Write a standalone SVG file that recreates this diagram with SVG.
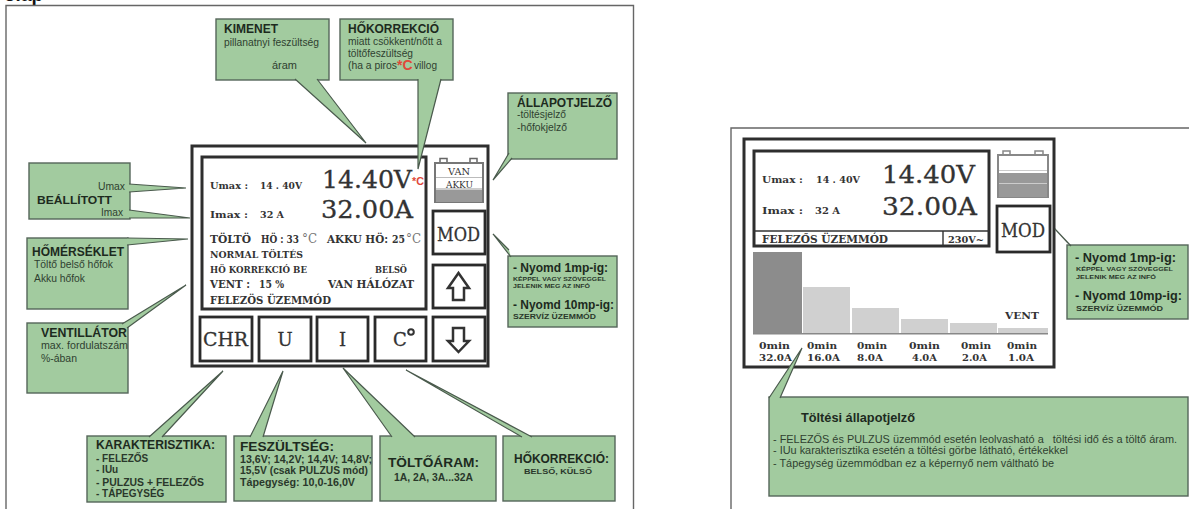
<svg xmlns="http://www.w3.org/2000/svg" width="1189" height="509" viewBox="0 0 1189 509">
<style>
text{font-family:"Liberation Sans",Arial,sans-serif;fill:#2f3f30;font-size:10.4px}
.h{font-weight:bold;fill:#1d2a1e;font-size:12px}
.b{font-weight:bold;fill:#2a382b}
.box{fill:#a2cb9f;stroke:#55655a;stroke-width:1.4}
.tail{fill:#a2cb9f;stroke:#4a5a4d;stroke-width:1.2;stroke-linejoin:miter}
.frame{fill:none;stroke:#666;stroke-width:1.4}
.dev{fill:#fff;stroke:#2e2e2e;stroke-width:3}
.dev2{fill:#fff;stroke:#2a2a2a;stroke-width:2.8}
text.s{font-family:"DejaVu Serif","Liberation Serif",serif;font-weight:bold;fill:#333;font-size:10px}
text.g{font-family:"DejaVu Serif","Liberation Serif",serif;fill:#333;stroke:#333;stroke-width:.3;font-size:24px}
text.k{font-family:"DejaVu Serif","Liberation Serif",serif;fill:#333;stroke:#333;stroke-width:.3;font-size:18px}
text.d{font-family:"DejaVu Serif","Liberation Serif",serif;fill:#777;font-size:12px}
.arrow{fill:#fff;stroke:#333;stroke-width:2.5;stroke-linejoin:miter}
</style>
<rect width="1189" height="509" fill="#fff"/>
<text x="4" y="1" style="font-size:19px;font-weight:bold;fill:#111">olap</text>
<g id="frames">
<path class="frame" d="M6 509V5.500H633.500V509"/>
<path class="frame" d="M731 509V128H1189"/>
</g>
<g id="device-main">
<rect class="dev" x="192" y="146" width="296" height="220"/>
<rect class="dev" x="202" y="157" width="224" height="152"/>
<text class="s" x="210" y="189" textLength="38" lengthAdjust="spacingAndGlyphs">Umax :</text>
<text class="s" x="260" y="189" textLength="42" lengthAdjust="spacingAndGlyphs">14 . 40V</text>
<text class="g" x="322" y="188" textLength="90" lengthAdjust="spacingAndGlyphs">14.40V</text>
<text x="412" y="185" style="fill:#e0483a;font-size:11px;font-weight:bold" textLength="12" lengthAdjust="spacingAndGlyphs">*C</text>
<text class="s" x="210" y="218" textLength="38" lengthAdjust="spacingAndGlyphs">Imax :</text>
<text class="s" x="260" y="218" textLength="24" lengthAdjust="spacingAndGlyphs">32 A</text>
<text class="g" x="321" y="218" textLength="92" lengthAdjust="spacingAndGlyphs">32.00A</text>
<text class="s" x="210" y="243" style="font-size:11px" textLength="41" lengthAdjust="spacingAndGlyphs">TÖLTÖ</text>
<text class="s" x="261" y="243" style="font-size:11px" textLength="38" lengthAdjust="spacingAndGlyphs">HÖ : 33</text>
<text class="d" x="302" y="243" textLength="15" lengthAdjust="spacingAndGlyphs">°C</text>
<text class="s" x="327" y="243" style="font-size:11px" textLength="61" lengthAdjust="spacingAndGlyphs">AKKU HÖ:</text>
<text class="s" x="392" y="243" style="font-size:11px" textLength="13" lengthAdjust="spacingAndGlyphs">25</text>
<text class="d" x="406" y="243" textLength="15" lengthAdjust="spacingAndGlyphs">°C</text>
<text class="s" x="210" y="258" style="font-size:9px" textLength="93" lengthAdjust="spacingAndGlyphs">NORMAL  TÖLTÉS</text>
<text class="s" x="210" y="273" style="font-size:9px" textLength="97" lengthAdjust="spacingAndGlyphs">HÖ KORREKCIÓ BE</text>
<text class="s" x="375" y="273" style="font-size:9px" textLength="32" lengthAdjust="spacingAndGlyphs">BELSÖ</text>
<text class="s" x="210" y="288" style="font-size:11px" textLength="40" lengthAdjust="spacingAndGlyphs">VENT :</text>
<text class="s" x="259" y="288" style="font-size:11px" textLength="25" lengthAdjust="spacingAndGlyphs">15 %</text>
<text class="s" x="328" y="288" style="font-size:11px" textLength="86" lengthAdjust="spacingAndGlyphs">VAN HÁLÓZAT</text>
<text class="s" x="210" y="304" style="font-size:11px" textLength="121" lengthAdjust="spacingAndGlyphs">FELEZÖS ÜZEMMÓD</text>
</g>
<g id="battery-main">
<path d="M440 163V158.500H447V163M470 163V158.500H477V163" fill="#fff" stroke="#666" stroke-width="1.500"/>
<rect x="435" y="163" width="48" height="39" fill="#fff" stroke="#777" stroke-width="2"/>
<rect x="436" y="190" width="46" height="12" fill="#999"/>
<rect x="436" y="177" width="46" height="1" fill="#bbb"/>
<rect x="436" y="188" width="46" height="2" fill="#ccc"/>
<text x="448" y="175" style="font-family:'DejaVu Serif',serif;font-size:9.500px;fill:#333" textLength="22" lengthAdjust="spacingAndGlyphs">VAN</text>
<text x="446" y="188" style="font-family:'DejaVu Serif',serif;font-size:9.500px;fill:#333" textLength="27" lengthAdjust="spacingAndGlyphs">AKKU</text>
</g>
<g id="btn-mod"><rect class="dev2" x="433" y="211" width="52" height="43"/><text class="k" x="437" y="241" textLength="43" lengthAdjust="spacingAndGlyphs">MOD</text></g>
<g id="btn-up"><rect class="dev2" x="433" y="265" width="52" height="43"/><path class="arrow" d="M458.500 273L469 288H464V300H453V288H448Z"/></g>
<g id="btn-down"><rect class="dev2" x="433" y="317" width="52" height="44"/><path class="arrow" d="M458.500 352L469 341H464V328H453V341H448Z"/></g>
<g id="btn-chr"><rect class="dev2" x="200" y="317" width="52" height="44"/><text class="k" x="203" y="346" textLength="45" lengthAdjust="spacingAndGlyphs">CHR</text></g>
<g id="btn-u"><rect class="dev2" x="259" y="317" width="52" height="44"/><text class="k" x="285" y="346" text-anchor="middle">U</text></g>
<g id="btn-i"><rect class="dev2" x="317" y="317" width="51" height="44"/><text class="k" x="342.500" y="346" text-anchor="middle">I</text></g>
<g id="btn-c"><rect class="dev2" x="375" y="317" width="51" height="44"/><text class="k" x="393" y="346">C</text><circle cx="411" cy="332" r="2.800" fill="none" stroke="#333" stroke-width="2"/></g>

<g id="n-kimenet"><rect class="box" x="216" y="19" width="113" height="61"/>
<text class="h" x="224" y="33">KIMENET</text><text x="224" y="46" textLength="95" lengthAdjust="spacingAndGlyphs">pillanatnyi feszültség</text><text x="272" y="69" textLength="25" lengthAdjust="spacingAndGlyphs">áram</text></g>
<g id="n-hokorr1"><rect class="box" x="340" y="19" width="113" height="61"/>
<text class="h" x="348" y="33" textLength="91" lengthAdjust="spacingAndGlyphs">HŐKORREKCIÓ</text><text x="348" y="45" textLength="94" lengthAdjust="spacingAndGlyphs">miatt csökkent/nőtt a</text><text x="348" y="57" textLength="65" lengthAdjust="spacingAndGlyphs">töltőfeszültség</text><text x="348" y="69" textLength="49" lengthAdjust="spacingAndGlyphs">(ha a piros</text>
<text x="397" y="70" style="fill:#e0483a;font-size:14px;font-weight:bold">*C</text><text x="414" y="69" textLength="23" lengthAdjust="spacingAndGlyphs">villog</text></g>
<g id="n-allapot"><rect class="box" x="508" y="93" width="109" height="66"/>
<text class="h" x="517" y="107" textLength="95" lengthAdjust="spacingAndGlyphs">ÁLLAPOTJELZŐ</text><text x="517" y="118" textLength="49" lengthAdjust="spacingAndGlyphs">-töltésjelző</text><text x="517" y="131" textLength="50" lengthAdjust="spacingAndGlyphs">-hőfokjelző</text></g>
<g id="n-nyomd"><rect class="box" x="508" y="256" width="109" height="71"/>
<text class="h" x="513" y="272" style="font-size:12.500px" textLength="95" lengthAdjust="spacingAndGlyphs">- Nyomd 1mp-ig:</text>
<text class="b" x="513" y="281" style="font-size:6px" textLength="93" lengthAdjust="spacingAndGlyphs">KÉPPEL VAGY SZÖVEGGEL</text>
<text class="b" x="513" y="288" style="font-size:6px" textLength="77" lengthAdjust="spacingAndGlyphs">JELENIK MEG AZ INFÓ</text>
<text class="h" x="513" y="309" style="font-size:12.500px" textLength="101" lengthAdjust="spacingAndGlyphs">- Nyomd 10mp-ig:</text>
<text class="b" x="513" y="319" style="font-size:8px" textLength="83" lengthAdjust="spacingAndGlyphs">SZERVÍZ ÜZEMMÓD</text></g>
<g id="n-beallitott"><rect class="box" x="29" y="163" width="101" height="56"/>
<text x="98" y="190" textLength="27" lengthAdjust="spacingAndGlyphs">Umax</text>
<text class="h" x="37" y="204" style="font-size:11px" textLength="75" lengthAdjust="spacingAndGlyphs">BEÁLLÍTOTT</text>
<text x="101" y="216" textLength="22" lengthAdjust="spacingAndGlyphs">Imax</text></g>
<g id="n-homerseklet"><rect class="box" x="27" y="238" width="101" height="71"/>
<text class="h" x="32" y="256" textLength="92" lengthAdjust="spacingAndGlyphs">HŐMÉRSÉKLET</text><text x="34" y="268" textLength="79" lengthAdjust="spacingAndGlyphs">Töltő belső hőfok</text><text x="34" y="282" textLength="51" lengthAdjust="spacingAndGlyphs">Akku hőfok</text></g>
<g id="n-ventillator"><rect class="box" x="27" y="323" width="101" height="70"/>
<text class="h" x="41" y="337" textLength="86" lengthAdjust="spacingAndGlyphs">VENTILLÁTOR</text><text x="41" y="349" textLength="87" lengthAdjust="spacingAndGlyphs">max. fordulatszám</text><text x="41" y="362" textLength="36" lengthAdjust="spacingAndGlyphs">%-ában</text></g>
<g id="n-karakt"><rect class="box" x="87" y="436" width="139" height="66"/>
<text class="h" x="96" y="449" textLength="119" lengthAdjust="spacingAndGlyphs">KARAKTERISZTIKA:</text>
<text class="b" x="96" y="462" style="font-size:10px">- FELEZŐS</text><text class="b" x="96" y="473" style="font-size:10px">- IUu</text>
<text class="b" x="96" y="486" style="font-size:10px" textLength="108" lengthAdjust="spacingAndGlyphs">- PULZUS + FELEZŐS</text><text class="b" x="96" y="497" style="font-size:10px">- TÁPEGYSÉG</text></g>
<g id="n-fesz"><rect class="box" x="234" y="436" width="138" height="65"/>
<text class="h" x="240" y="451" style="font-size:13.500px" textLength="94" lengthAdjust="spacingAndGlyphs">FESZÜLTSÉG:</text>
<text class="b" x="240" y="463" textLength="132" lengthAdjust="spacingAndGlyphs">13,6V; 14,2V; 14,4V; 14,8V;</text>
<text class="b" x="240" y="474" textLength="128" lengthAdjust="spacingAndGlyphs">15,5V (csak PULZUS mód)</text>
<text class="b" x="240" y="486" textLength="115" lengthAdjust="spacingAndGlyphs">Tápegység: 10,0-16,0V</text></g>
<g id="n-toltoaram"><rect class="box" x="380" y="436" width="116" height="65"/>
<text class="h" x="388" y="467" style="font-size:13.500px" textLength="91" lengthAdjust="spacingAndGlyphs">TÖLTŐÁRAM:</text>
<text class="b" x="394" y="481" textLength="79" lengthAdjust="spacingAndGlyphs">1A, 2A, 3A...32A</text></g>
<g id="n-hokorr2"><rect class="box" x="503" y="436" width="112" height="65"/>
<text class="h" x="514" y="463" textLength="95" lengthAdjust="spacingAndGlyphs">HŐKORREKCIÓ:</text>
<text class="b" x="524" y="474" style="font-size:8px" textLength="68" lengthAdjust="spacingAndGlyphs">BELSŐ, KÜLSŐ</text></g>

<g id="device-second">
<rect class="dev" x="744" y="139" width="310" height="228"/>
<rect class="dev" x="754" y="151" width="235" height="95"/>
<path d="M754 231H989M943 231V246" fill="none" stroke="#333" stroke-width="1.400"/>
<text class="s" x="762" y="183" textLength="41" lengthAdjust="spacingAndGlyphs">Umax :</text>
<text class="s" x="816" y="183" textLength="44" lengthAdjust="spacingAndGlyphs">14 . 40V</text>
<text class="g" x="882" y="183" textLength="93" lengthAdjust="spacingAndGlyphs">14.40V</text>
<text class="s" x="762" y="214" textLength="41" lengthAdjust="spacingAndGlyphs">Imax :</text>
<text class="s" x="815" y="214" textLength="25" lengthAdjust="spacingAndGlyphs">32 A</text>
<text class="g" x="882" y="215" textLength="95" lengthAdjust="spacingAndGlyphs">32.00A</text>
<text class="s" x="762" y="243" style="font-size:11px" textLength="126" lengthAdjust="spacingAndGlyphs">FELEZŐS ÜZEMMÓD</text>
<text class="s" x="948" y="243" textLength="36" lengthAdjust="spacingAndGlyphs">230V~</text>
</g>
<g id="battery-second">
<path d="M1003 155V151H1010V155M1035 155V151H1043V155" fill="#fff" stroke="#888" stroke-width="1.500"/>
<rect x="998" y="155" width="50" height="42" fill="#fff" stroke="#888" stroke-width="2"/>
<rect x="999" y="173" width="48" height="24" fill="#999"/>
<rect x="999" y="170" width="48" height="1" fill="#ccc"/>
<rect x="999" y="183" width="48" height="1" fill="#ccc"/>
</g>
<g id="btn-mod2"><rect class="dev2" x="997" y="206" width="53" height="46"/><text class="k" x="1001" y="237" textLength="44" lengthAdjust="spacingAndGlyphs">MOD</text></g>
<g id="chart">
<rect x="753" y="252" width="49" height="81" fill="#8c8c8c"/>
<rect x="803" y="287" width="47" height="46" fill="#d0d0d0"/>
<rect x="852" y="308" width="47" height="25" fill="#d0d0d0"/>
<rect x="901" y="319" width="47" height="14" fill="#d0d0d0"/>
<rect x="950" y="323" width="47" height="10" fill="#d0d0d0"/>
<rect x="998" y="328" width="50" height="5" fill="#d0d0d0"/>
<rect x="753" y="333" width="295" height="1.500" fill="#888"/>
<text class="s" x="1005" y="319" textLength="34" lengthAdjust="spacingAndGlyphs">VENT</text>
<text class="s" x="759" y="349" textLength="31" lengthAdjust="spacingAndGlyphs">0min</text><text class="s" x="759" y="361" textLength="33" lengthAdjust="spacingAndGlyphs">32.0A</text>
<text class="s" x="807" y="349" textLength="30" lengthAdjust="spacingAndGlyphs">0min</text><text class="s" x="807" y="361" textLength="33" lengthAdjust="spacingAndGlyphs">16.0A</text>
<text class="s" x="857" y="349" textLength="30" lengthAdjust="spacingAndGlyphs">0min</text><text class="s" x="857" y="361" textLength="26" lengthAdjust="spacingAndGlyphs">8.0A</text>
<text class="s" x="909" y="349" textLength="31" lengthAdjust="spacingAndGlyphs">0min</text><text class="s" x="912" y="361" textLength="25" lengthAdjust="spacingAndGlyphs">4.0A</text>
<text class="s" x="961" y="349" textLength="30" lengthAdjust="spacingAndGlyphs">0min</text><text class="s" x="962" y="361" textLength="25" lengthAdjust="spacingAndGlyphs">2.0A</text>
<text class="s" x="1007" y="349" textLength="30" lengthAdjust="spacingAndGlyphs">0min</text><text class="s" x="1008" y="361" textLength="26" lengthAdjust="spacingAndGlyphs">1.0A</text>
</g>
<g id="n-nyomd2"><rect class="box" x="1067" y="245" width="121" height="74"/>
<text class="h" x="1075" y="262" style="font-size:13px" textLength="101" lengthAdjust="spacingAndGlyphs">- Nyomd 1mp-ig:</text>
<text class="b" x="1076" y="271" style="font-size:6px" textLength="97" lengthAdjust="spacingAndGlyphs">KÉPPEL VAGY SZÖVEGGEL</text>
<text class="b" x="1076" y="279" style="font-size:6px" textLength="80" lengthAdjust="spacingAndGlyphs">JELENIK MEG AZ INFÓ</text>
<text class="h" x="1075" y="300" style="font-size:13px" textLength="107" lengthAdjust="spacingAndGlyphs">- Nyomd 10mp-ig:</text>
<text class="b" x="1076" y="311" style="font-size:8px" textLength="87" lengthAdjust="spacingAndGlyphs">SZERVÍZ ÜZEMMÓD</text></g>
<g id="n-toltesi"><rect class="box" x="769" y="397" width="419" height="99"/>
<text class="h" x="801" y="422" textLength="114" lengthAdjust="spacingAndGlyphs">Töltési állapotjelző</text>
<text x="773" y="443" textLength="404" lengthAdjust="spacingAndGlyphs" xml:space="preserve">- FELEZŐS és PULZUS üzemmód esetén leolvasható a   töltési idő és a töltő áram.</text>
<text x="773" y="454" textLength="295" lengthAdjust="spacingAndGlyphs">- IUu karakterisztika esetén a töltési görbe látható, értékekkel</text>
<text x="773" y="467" textLength="281" lengthAdjust="spacingAndGlyphs">- Tápegység üzemmódban ez a képernyő nem váltható be</text></g>

<g id="connectors">
<path class="tail" d="M295 79L366 143L317 79"/>
<path class="tail" d="M418 79V169L441 79"/>
<path class="tail" d="M509 153L493 180L512 158"/>
<path class="tail" d="M509 250L493 234L511 257"/>
<path class="tail" d="M129 184L186 188L129 192"/>
<path class="tail" d="M129 210L190 218L129 218"/>
<path class="tail" d="M127 238L188 239L127 245"/>
<path class="tail" d="M122 324L186 285L127 328"/>
<path class="tail" d="M149 437L223 371L162 437"/>
<path class="tail" d="M250 437L283 371L263 437"/>
<path class="tail" d="M392 437L343 368L415 437"/>
<path class="tail" d="M522 437L406 370L532 437"/>
<path class="tail" d="M1068 243L1055 229L1071 246"/>
<path class="tail" d="M769 398L802 348L780 398"/>
</g>
</svg>
